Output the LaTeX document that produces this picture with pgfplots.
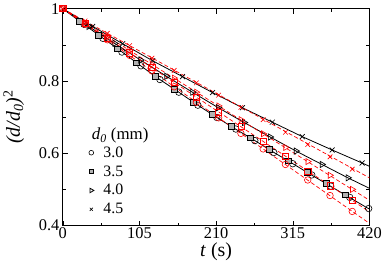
\documentclass[border=0pt]{standalone}
\usepackage{pgfplots}
\pgfplotsset{compat=1.18}
\usepackage{fontspec}
\setmainfont{Liberation Serif}
\begin{document}
\begin{tikzpicture}
\begin{axis}[
 scale only axis, width=309pt, height=218.5pt,
 xmin=0, xmax=420, ymin=0.4, ymax=1,
 xtick={0,105,210,315,420}, xticklabels={0,105,210,315,420},
 minor xtick={52.5,157.5,262.5,367.5},
 ytick={0.4,0.6,0.8,1}, yticklabels={0.4,0.6,0.8,1},
 minor ytick={0.5,0.7,0.9},
 tick align=inside, major tick length=5pt, minor tick length=3pt,
 tick style={black, line width=0.5pt},
 axis line style={line width=0.7pt},
 ticklabel style={font=\fontsize{16.5}{16.5}\selectfont},
 xticklabel style={yshift=1pt},
 /pgf/number format/assume math mode=true,
 xlabel={\textit{t} (s)},
 ylabel={\textit{(d/d}\textsubscript{\textit{0}}\textit{)}\textsuperscript{2}},
 label style={font=\fontsize{20}{20}\selectfont},
 xlabel style={at={(axis description cs:0.5,-0.123)}, anchor=center},
 ylabel style={at={(axis description cs:-0.16,0.5)}, anchor=center},
 legend style={at={(axis description cs:0.064,0.37)}, anchor=north west, draw=none, fill=none,
   font=\fontsize{16}{16}\selectfont, row sep=4.5pt, inner sep=0pt, nodes={inner sep=1.2pt}},
 legend cell align=left,
 legend image code/.code={\path (0cm,0cm) (0.68cm,0cm); \draw[#1,/tikz/only marks] plot coordinates {(0.3cm,0cm)};},
]
% black solid curves
\addplot[black, line width=0.8pt, forget plot] coordinates {
(0,1)(26,0.961)(52,0.923)(78,0.885)(104,0.846)(130,0.808)(156,0.773)(182,0.737)(208,0.703)(234,0.670)(260,0.639)(286,0.606)(312,0.575)(338,0.543)(364,0.512)(390,0.481)(416,0.450)(420,0.446)};
\addplot[black, line width=0.8pt, forget plot] coordinates {
(0,1)(35.5,0.951)(71,0.904)(106.5,0.858)(142,0.813)(177.5,0.769)(213,0.726)(248.5,0.685)(284,0.645)(319.5,0.606)(355,0.569)(390.5,0.532)(420,0.503)};
\addplot[black, line width=0.8pt, forget plot] coordinates {
(0,1)(41,0.951)(82,0.903)(123,0.856)(164,0.812)(205,0.768)(246,0.726)(287,0.686)(328,0.646)(369,0.609)(410,0.573)(420,0.564)};
% black markers
\addplot[only marks, mark=o, mark size=3.3pt, black, mark options={fill=gray!60, line width=0.6pt}, forget plot] coordinates {
(0,1)(29,0.957)(55,0.918)(81,0.880)(107,0.842)(133,0.804)(159,0.769)(185,0.733)(211,0.699)(237,0.667)(263,0.635)(289,0.602)(315,0.571)(341,0.540)(367,0.509)(393,0.478)(419,0.447)};
\addplot[only marks, mark=square*, mark size=2.9pt, black, mark options={fill=gray!60, line width=0.6pt}, forget plot] coordinates {
(23,0.965)(49,0.927)(75,0.889)(101,0.850)(127,0.812)(153,0.777)(179,0.741)(205,0.707)(231,0.674)(257,0.643)(283,0.610)(309,0.579)(335,0.547)(361,0.516)(387,0.485)};
\addplot[only marks, mark=triangle, mark size=3.6pt, black, mark options={rotate=-90, line width=0.7pt}, forget plot] coordinates {
(35.5,0.951)(71,0.904)(106.5,0.858)(142,0.813)(177.5,0.769)(213,0.726)(248.5,0.685)(284,0.645)(319.5,0.606)(355,0.569)(390.5,0.532)};
\addplot[only marks, mark=x, mark size=3.5pt, black, mark options={line width=0.7pt}, forget plot] coordinates {
(41,0.951)(82,0.903)(123,0.856)(164,0.812)(205,0.768)(246,0.726)(287,0.686)(328,0.646)(369,0.609)(410,0.573)};
% red dashed lines
\addplot[red, line width=0.7pt, dash pattern=on 4pt off 2.5pt, forget plot] coordinates {(0,1)(420,0.532)};
\addplot[red, line width=0.7pt, dash pattern=on 4pt off 2.5pt, forget plot] coordinates {(0,1)(420,0.470)};
\addplot[red, line width=0.7pt, dash pattern=on 4pt off 2.5pt, forget plot] coordinates {(0,1)(420,0.438)};
\addplot[red, line width=0.7pt, dash pattern=on 4pt off 2.5pt, forget plot] coordinates {(0,1)(420,0.406)};
% red markers
\addplot[only marks, mark=x, mark size=3.3pt, red, mark options={line width=0.6pt}, forget plot] coordinates {
(0,1)(30.5,0.966)(61,0.932)(91.5,0.898)(122,0.863)(152.5,0.829)(183,0.795)(213.5,0.761)(244,0.727)(274.5,0.693)(305,0.658)(335.5,0.624)(366,0.590)(396.5,0.556)};
\addplot[only marks, mark=triangle, mark size=3.5pt, red, mark options={rotate=-90, line width=0.6pt}, forget plot] coordinates {
(0,1)(30.5,0.962)(61,0.923)(91.5,0.885)(122,0.846)(152.5,0.808)(183,0.769)(213.5,0.731)(244,0.693)(274.5,0.654)(305,0.616)(335.5,0.577)(366,0.539)(396.5,0.500)};
\addplot[only marks, mark=square, mark size=3.1pt, red, mark options={line width=0.6pt}, forget plot] coordinates {
(0,1)(30.5,0.959)(61,0.918)(91.5,0.878)(122,0.837)(152.5,0.796)(183,0.755)(213.5,0.714)(244,0.674)(274.5,0.633)(305,0.592)(335.5,0.551)(366,0.510)(396.5,0.470)};
\addplot[only marks, mark=o, mark size=3.3pt, red, mark options={line width=0.6pt}, forget plot] coordinates {
(0,1)(30.5,0.957)(61,0.914)(91.5,0.871)(122,0.828)(152.5,0.784)(183,0.741)(213.5,0.698)(244,0.655)(274.5,0.612)(305,0.569)(335.5,0.526)(366,0.483)(396.5,0.439)};
% legend
\addlegendimage{mark=o, mark size=2.4pt, black, mark options={fill=white, line width=0.6pt}}
\addlegendentry{3.0}
\addlegendimage{mark=square*, mark size=2.2pt, black, mark options={fill=gray!60, line width=0.6pt}}
\addlegendentry{3.5}
\addlegendimage{mark=triangle, mark size=2.6pt, black, mark options={rotate=-90, line width=0.8pt}}
\addlegendentry{4.0}
\addlegendimage{mark=x, mark size=2.2pt, black, mark options={line width=0.6pt}}
\addlegendentry{4.5}
\node[anchor=west, font=\fontsize{17}{17}\selectfont, inner sep=0pt] at (axis description cs:0.094,0.414) {\textit{d}\textsubscript{\textit{0}} (mm)};
\end{axis}
\path (current axis.south west) ++(-61pt,-38.5pt) coordinate (bbA);
\path (current axis.north east) ++(15pt,6pt) coordinate (bbB);
\path (bbA) rectangle (bbB);
\end{tikzpicture}
\end{document}
